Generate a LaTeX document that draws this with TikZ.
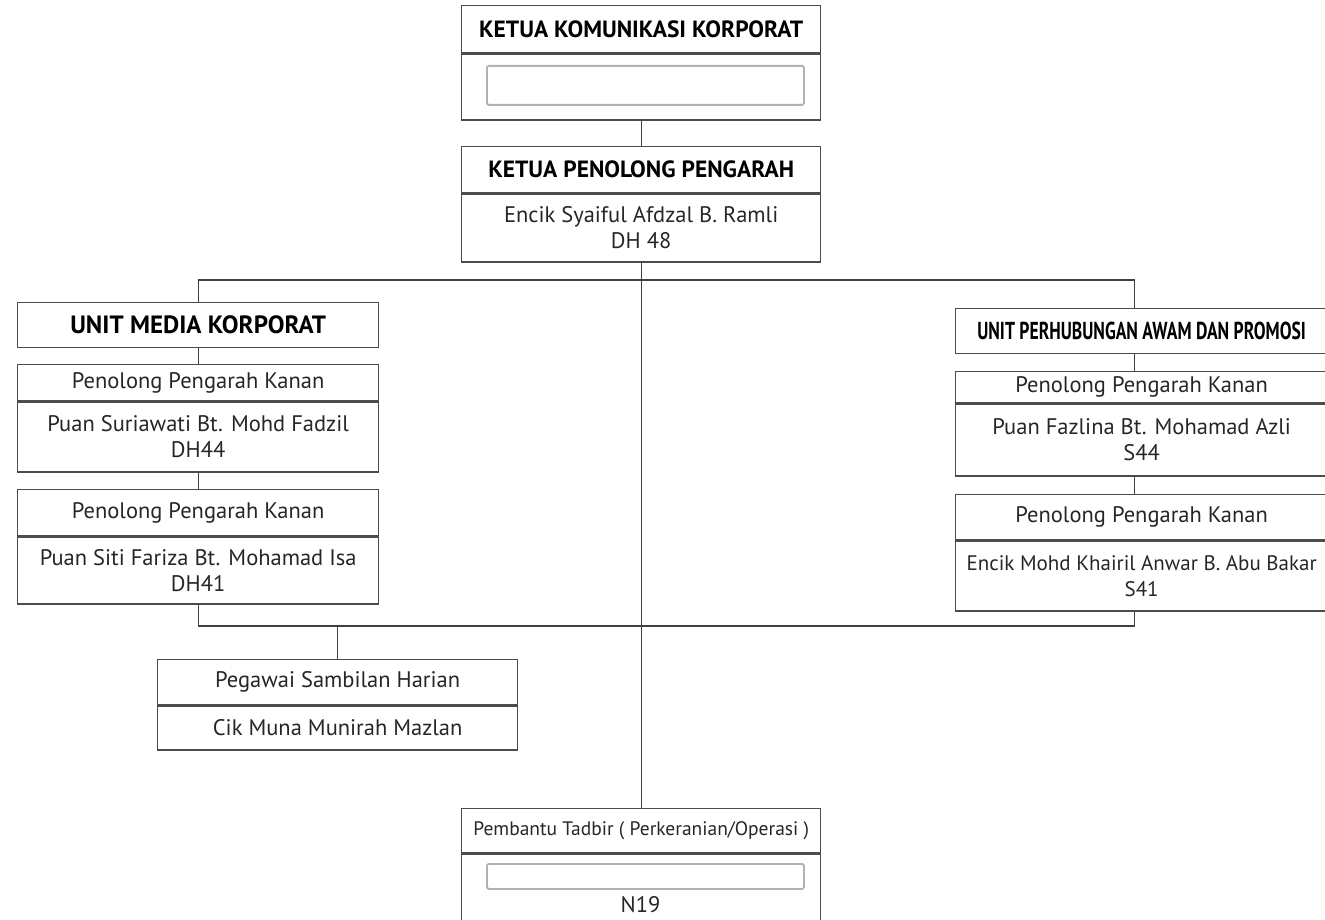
\documentclass[tikz,border=0pt]{standalone}
\usepackage{fontspec}
\setmainfont{PT Sans}
\newfontfamily\narrowfont[FakeStretch=0.72]{PT Sans}
\usetikzlibrary{positioning}

\begin{document}
\begin{tikzpicture}[x=1pt,y=-1pt]
	\tikzset{
		cell/.style={draw=black!70,line width=1.3pt,anchor=north west,inner sep=0pt,
			align=center,text=black!85,font=\fontsize{22.5}{26}\selectfont},
		head cell/.style={cell,font=\bfseries\fontsize{23.5}{26}\selectfont,text=black},
		blank/.style={draw=black!30,line width=1.8pt,rounded corners=1.5pt,
			anchor=north west,inner sep=0pt},
		link/.style={line width=1.3pt,color=black!75}
	}
	\useasboundingbox (0,0) rectangle (1325,920);
	% top of the chart
	\node[head cell,minimum width=359pt,minimum height=47pt] (kkk) at (461,5) {KETUA KOMUNIKASI KORPORAT};
	\node[cell,minimum width=359pt,minimum height=66pt] (kkk body) at (kkk.south west) {};
	\node[blank,minimum width=317pt,minimum height=39pt] (kkk name) at (486,65) {};
	\node[head cell,minimum width=359pt,minimum height=46pt] (kpp) at (461,146) {KETUA PENOLONG PENGARAH};
	\node[cell,minimum width=359pt,minimum height=68pt] (kpp body) at (kpp.south west) {Encik Syaiful Afdzal B. Ramli\\DH 48};
	% unit media korporat
	\node[head cell,font=\bfseries\fontsize{25}{28}\selectfont,minimum width=361pt,minimum height=45pt] (umk) at (17,302) {UNIT MEDIA KORPORAT};
	\node[cell,minimum width=361pt,minimum height=36pt] (ml1) at (17,364) {Penolong Pengarah Kanan};
	\node[cell,minimum width=361pt,minimum height=70pt] (ml1 body) at (ml1.south west) {Puan Suriawati Bt. Mohd Fadzil\\DH44};
	\node[cell,minimum width=361pt,minimum height=46pt] (ml2) at (17,489) {Penolong Pengarah Kanan};
	\node[cell,minimum width=361pt,minimum height=67pt] (ml2 body) at (ml2.south west) {Puan Siti Fariza Bt. Mohamad Isa\\DH41};
	\node[cell,minimum width=360pt,minimum height=45pt] (psh) at (157,659) {Pegawai Sambilan Harian};
	\node[cell,minimum width=360pt,minimum height=44pt] (psh body) at (psh.south west) {Cik Muna Munirah Mazlan};
	% unit perhubungan awam dan promosi
	\node[head cell,font=\narrowfont\bfseries\fontsize{24.5}{28}\selectfont,minimum width=372pt,minimum height=45pt] (upa) at (955,308) {UNIT PERHUBUNGAN AWAM DAN PROMOSI};
	\node[cell,minimum width=372pt,minimum height=31pt] (pr1) at (955,371) {Penolong Pengarah Kanan};
	\node[cell,minimum width=372pt,minimum height=72pt] (pr1 body) at (pr1.south west) {Puan Fazlina Bt. Mohamad Azli\\S44};
	\node[cell,minimum width=372pt,minimum height=45pt] (pr2) at (955,494) {Penolong Pengarah Kanan};
	\node[cell,font=\fontsize{21}{26}\selectfont,minimum width=372pt,minimum height=70pt] (pr2 body) at (pr2.south west) {Encik Mohd Khairil Anwar B. Abu Bakar\\S41};
	% pembantu tadbir
	\node[cell,font=\fontsize{19.5}{22}\selectfont,minimum width=359pt,minimum height=44pt] (pbt) at (461,808) {Pembantu Tadbir ( Perkeranian/Operasi )};
	\node[cell,minimum width=359pt,minimum height=80pt] (pbt body) at (pbt.south west) {};
	\node[blank,minimum width=317pt,minimum height=25pt] (pbt name) at (486,863) {};
	\node[anchor=center,text=black!85,font=\fontsize{22.5}{26}\selectfont] (pbt grade) at (640.5,905) {N19};
	\path
	(640.5,280) coordinate (bus top)
	(640.5,626) coordinate (bus low);
	% connectors
	\draw[link] (kkk body.south) -- (kpp.north);
	\draw[link] (kpp body.south) -- (pbt.north);
	\draw[link] (umk.north) |- (bus top) -| ([xshift=-7pt]upa.north);
	\draw[link] (ml2 body.south) |- (bus low) -| ([xshift=-7pt]pr2 body.south);
	\draw[link] (psh.north) -- (psh.north |- bus low);
	\foreach \a/\b in {umk/ml1,ml1 body/ml2}
		\draw[link] (\a.south) -- (\b.north);
	\foreach \a/\b in {upa/pr1,pr1 body/pr2}
		\draw[link] ([xshift=-7pt]\a.south) -- ([xshift=-7pt]\b.north);
\end{tikzpicture}
\end{document}
